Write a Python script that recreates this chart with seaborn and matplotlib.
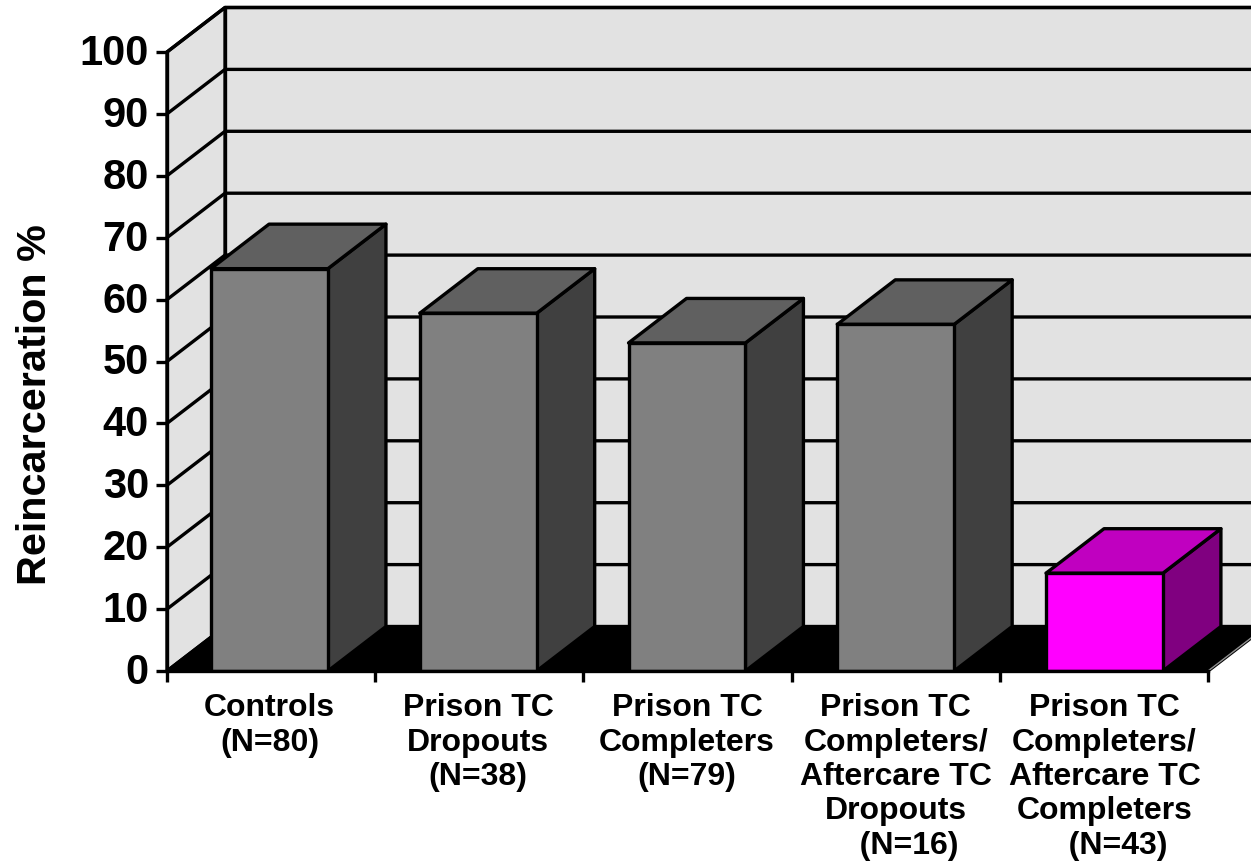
import matplotlib
matplotlib.use("Agg")
import matplotlib.pyplot as plt
import numpy as np
import pandas as pd
import seaborn as sns
from matplotlib.patches import Polygon
from matplotlib.transforms import ScaledTranslation

# ==================================================
# DATA
# ==================================================

GROUPS = [
    "Controls\n(N=80)",
    "Prison TC\nDropouts\n(N=38)",
    "Prison TC\nCompleters\n(N=79)",
    "Prison TC\nCompleters/\nAftercare TC\nDropouts\n   (N=16)",
    "Prison TC\nCompleters/\nAftercare TC\nCompleters\n   (N=43)",
]
RATES = [65, 57.8, 53, 56, 15.8]
Y_TICKS = [0, 10, 20, 30, 40, 50, 60, 70, 80, 90, 100]

FRONT = ["#808080", "#808080", "#808080", "#808080", "#FF00FF"]
TOP = ["#606060", "#606060", "#606060", "#606060", "#C000C0"]
SIDE = ["#404040", "#404040", "#404040", "#404040", "#800080"]

WALL = "#E2E2E2"
LW = 2.4

# ==================================================
# SETUP
# ==================================================

W, H = 1251, 864
LEFT, RIGHT = 167, 1208
Y0, Y100 = 671, 52

sns.set_theme(style="white")
plt.rcParams["font.family"] = ["Liberation Sans", "DejaVu Sans"]
plt.rcParams["font.weight"] = "bold"

fig = plt.figure(figsize=(W / 100, H / 100), dpi=100)
ax = fig.add_axes([LEFT / W, 1 - Y0 / H, (RIGHT - LEFT) / W, (Y0 - Y100) / H])

df = pd.DataFrame({"group": GROUPS, "rate": RATES})

BAR_WIDTH = 0.56
x0, x1 = -0.491, 4.496
# depth of the fake 3d box, in data units
DX = 58 / ((RIGHT - LEFT) / (x1 - x0))
DY = 44.5 / ((Y0 - Y100) / 100)

# ==================================================
# BARS
# ==================================================

sns.barplot(
    data=df,
    x="group",
    y="rate",
    hue="group",
    palette=FRONT,
    legend=False,
    width=BAR_WIDTH,
    edgecolor="black",
    linewidth=LW,
    saturation=1,
    ax=ax,
    zorder=5,
)

ax.set_xlim(x0, x1)
ax.set_ylim(0, 100)

# ==================================================
# WALLS AND FLOOR
# ==================================================


def add_poly(points, face, edge="black", lw=LW, z=1):
    ax.add_patch(Polygon(points, closed=True, facecolor=face, edgecolor=edge,
                         linewidth=lw, zorder=z, clip_on=False, joinstyle="round"))


# back wall runs off the right side of the picture
add_poly([(x0 + DX, DY), (x1 + DX, DY), (x1 + DX, 100 + DY), (x0 + DX, 100 + DY)], WALL, z=1)
add_poly([(x0, 0), (x0 + DX, DY), (x0 + DX, 100 + DY), (x0, 100)], WALL, z=1)

for v in Y_TICKS[1:]:
    ax.plot([x0, x0 + DX, x1 + DX], [v, v + DY, v + DY], color="black", lw=LW,
            zorder=2, clip_on=False, solid_joinstyle="miter")

add_poly([(x0, 0), (x0 + DX, DY), (x1 + DX, DY), (x1, 0)], "black", edge="black", lw=LW, z=3)
ax.plot([x1, x1 + DX], [0, DY], color="#909090", lw=1.0, zorder=3.5, clip_on=False)

# side and top of every bar
for i, val in enumerate(RATES):
    a = i - BAR_WIDTH / 2
    b = i + BAR_WIDTH / 2
    add_poly([(b, 0), (b + DX, DY), (b + DX, val + DY), (b, val)], SIDE[i], z=4)
    add_poly([(a, val), (a + DX, val + DY), (b + DX, val + DY), (b, val)], TOP[i], z=4)

# ==================================================
# AXES
# ==================================================

ax.set_xlabel("")
ax.set_ylabel("Reincarceration %", fontsize=29.8, fontweight="bold", color="black", va="center")
ax.yaxis.set_label_coords((35 - LEFT) / (RIGHT - LEFT), (Y0 - 405) / (Y0 - Y100))

for name in ["top", "right"]:
    ax.spines[name].set_visible(False)
for name in ["left", "bottom"]:
    ax.spines[name].set_color("black")
    ax.spines[name].set_linewidth(LW)
    ax.spines[name].set_zorder(6)

ax.set_yticks(Y_TICKS)
ax.tick_params(axis="y", labelsize=30, length=8, width=LW, color="black", labelcolor="black", pad=5, left=True)

# numbers sit a little above their ticks
for label in ax.get_yticklabels():
    label.set_transform(label.get_transform() + ScaledTranslation(0, 2.5 / 100, fig.dpi_scale_trans))

ax.set_xticks(range(len(GROUPS)))
ax.set_xticklabels(GROUPS, fontsize=23, fontweight="bold", color="black", linespacing=1.19)
ax.set_xticks(np.linspace(x0, x1, 6), minor=True)
ax.tick_params(axis="x", which="major", length=0, pad=16)
ax.tick_params(axis="x", which="minor", length=8, width=LW, color="black", bottom=True)

ax.set_axisbelow(False)

fig.savefig("out.png", dpi=100, facecolor="white")
